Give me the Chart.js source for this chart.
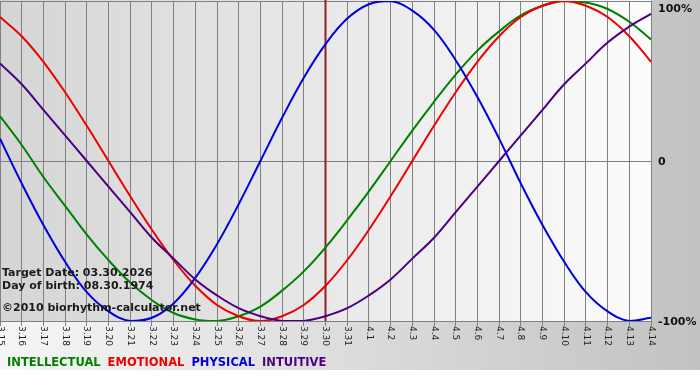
<!DOCTYPE html>
<html>
<head>
<meta charset="utf-8">
<script src="https://cdn.jsdelivr.net/npm/chart.js@4/dist/chart.umd.min.js"></script>
<style>
  html, body { margin: 0; padding: 0; background: #fff; }
  canvas { display: block; }
</style>
</head>
<body>
<canvas id="bio" width="700" height="380"></canvas>
<script>
// day labels, 3.15 .. 4.14
const days = ['3.15','3.16','3.17','3.18','3.19','3.20','3.21','3.22','3.23','3.24','3.25','3.26','3.27','3.28','3.29','3.30',
    '3.31','4.1','4.2','4.3','4.4','4.5','4.6','4.7','4.8','4.9','4.10','4.11','4.12','4.13','4.14'];

// cycle values in percent, one per day
const intellectual = [28, 10, -10, -28, -46, -62, -76, -87, -95, -99, -100, -97, -91, -81, -69, -54,
    -37, -19, 0, 19, 37, 54, 69, 81, 91, 97, 100, 99, 95, 87, 76];
const emotional = [90, 78, 62, 43, 22, 0, -22, -43, -62, -78, -90, -97, -100, -97, -90, -78,
    -62, -43, -22, 0, 22, 43, 62, 78, 90, 97, 100, 97, 90, 78, 62];
const physical = [14, -14, -40, -63, -82, -94, -100, -98, -89, -73, -52, -27, 0, 27, 52, 73,
    89, 98, 100, 94, 82, 63, 40, 14, -14, -40, -63, -82, -94, -100, -98];
const intuitive = [61, 48, 32, 16, 0, -16, -32, -48, -61, -74, -84, -92, -97, -100, -100, -97,
    -92, -84, -74, -61, -48, -32, -16, 0, 16, 32, 48, 61, 74, 84, 92];

const targetDay = '3.30';
const yTicks = [[100, '100%'], [0, '0'], [-100, '-100%']];
const series = [
    ['INTELLECTUAL', intellectual, '#008000'],
    ['EMOTIONAL', emotional, '#ee0000'],
    ['PHYSICAL', physical, '#0000dd'],
    ['INTUITIVE', intuitive, '#4b0082']
];

const FONT = "'DejaVu Sans', Verdana, sans-serif";

const backdrop = {
    id: 'backdrop',
    beforeDraw(chart) {
        const { ctx, chartArea: a } = chart;
        ctx.save();
        ctx.fillStyle = '#fff';
        ctx.fillRect(0, 0, 700, 380);
        let g = ctx.createLinearGradient(0, 0, 700, 0);
        g.addColorStop(0, '#f6f6f6');
        g.addColorStop(1, '#c2c2c2');
        ctx.fillStyle = g;
        ctx.fillRect(0, 0, 700, 370);
        g = ctx.createLinearGradient(a.left, 0, a.right, 0);
        g.addColorStop(0, '#d5d5d5');
        g.addColorStop(1, '#fcfcfc');
        ctx.fillStyle = g;
        ctx.fillRect(a.left, 0, a.right - a.left, a.bottom);
        ctx.restore();
    },
    beforeDatasetsDraw(chart) {
        // target date marker
        const { ctx, chartArea: a, scales } = chart;
        const x = scales.x.getPixelForValue(days.indexOf(targetDay));
        ctx.save();
        ctx.strokeStyle = '#8b2222';
        ctx.lineWidth = 2;
        ctx.beginPath();
        ctx.moveTo(x, 0);
        ctx.lineTo(x, a.bottom);
        ctx.stroke();
        ctx.restore();
    },
    afterDraw(chart) {
        const { ctx, chartArea: a, scales } = chart;
        ctx.save();
        // day labels, turned clockwise
        ctx.fillStyle = '#222';
        ctx.font = '9px ' + FONT;
        ctx.textAlign = 'left';
        ctx.textBaseline = 'middle';
        days.forEach((d, i) => {
            const x = scales.x.getPixelForValue(i);
            ctx.save();
            ctx.translate(x, a.bottom + 5);
            ctx.rotate(Math.PI / 2);
            ctx.fillText(d, 0, 0);
            ctx.restore();
        });
        // percent labels on the right
        ctx.font = 'bold 11px ' + FONT;
        ctx.fillStyle = '#111';
        ctx.textBaseline = 'alphabetic';
        yTicks.forEach(([v, t]) => {
            let y = scales.y.getPixelForValue(v) + 4;
            y = Math.min(Math.max(y, 12), a.bottom + 5);
            ctx.fillText(t, a.right + 7, y);
        });
        // info text
        ctx.fillStyle = '#1a1a1a';
        ctx.fillText('Target Date: 03.30.2026', 2, 276);
        ctx.fillText('Day of birth: 08.30.1974', 2, 289);
        ctx.fillText('\u00a92010 biorhythm-calculator.net', 2, 311);
        // legend row
        ctx.font = 'bold 11.5px ' + FONT;
        let lx = 7;
        series.forEach(([name, , color]) => {
            ctx.fillStyle = color;
            ctx.fillText(name, lx, 366);
            lx += ctx.measureText(name).width + 7;
        });
        ctx.restore();
    }
};

new Chart(document.getElementById('bio'), {
    type: 'line',
    data: {
        labels: days,
        datasets: series.map(([name, values, color], i) => ({
            label: name,
            data: values,
            borderColor: color,
            borderWidth: 2,
            pointRadius: 0,
            tension: 0.4,
            fill: false,
            order: series.length - i
        }))
    },
    options: {
        responsive: false,
        animation: false,
        layout: { padding: { top: 1, right: 49, left: 0, bottom: 0 } },
        plugins: {
            legend: { display: false },
            tooltip: { enabled: false }
        },
        scales: {
            x: {
                offset: false,
                ticks: { display: false },
                grid: { color: '#808080', lineWidth: 1, tickLength: 5, drawTicks: true },
                border: { display: false },
                afterFit: s => { s.height = 59; }
            },
            y: {
                position: 'right',
                min: -100,
                max: 100,
                ticks: { display: false, stepSize: 100 },
                grid: { color: '#808080', lineWidth: 1, drawTicks: false },
                border: { display: false },
                afterFit: s => { s.width = 0; }
            }
        }
    },
    plugins: [backdrop]
});
</script>
</body>
</html>
